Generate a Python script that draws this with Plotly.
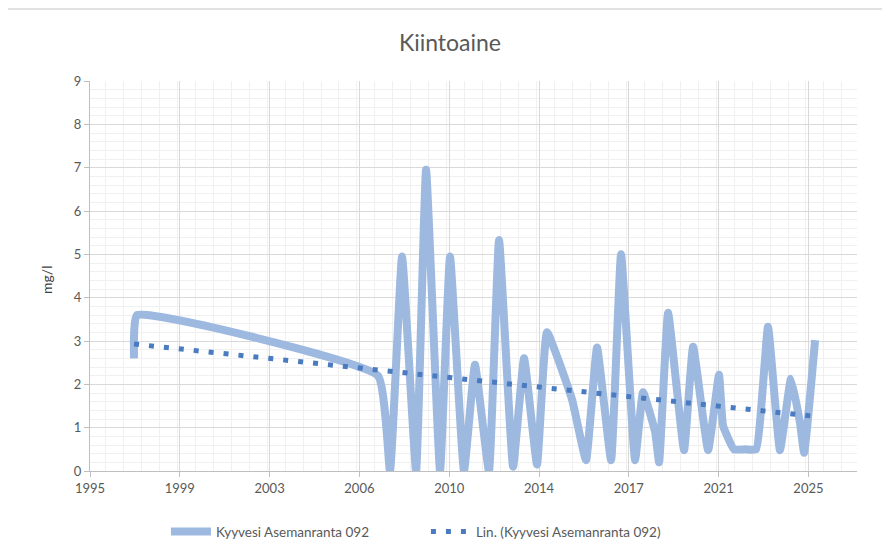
import plotly.graph_objects as go
import pandas as pd

# ---- data ----
title_text = "Kiintoaine"
y_title = "mg/l"
series_name = "Kyyvesi Asemanranta 092"
trend_name = "Lin. (Kyyvesi Asemanranta 092)"

sample_dates = [
    "1997-06-24", "1997-08-08", "2007-07-08", "2008-01-05", "2008-07-05",
    "2009-02-01", "2009-07-01", "2010-01-27", "2010-06-26", "2011-01-22",
    "2011-07-06", "2012-02-01", "2012-07-02", "2013-01-29", "2013-07-13",
    "2014-01-24", "2014-06-23", "2015-07-04", "2016-01-30", "2016-07-14",
    "2017-02-10", "2017-07-10", "2018-02-06", "2018-06-06", "2018-12-04",
    "2019-02-02", "2019-06-17", "2020-02-12", "2020-06-27", "2021-02-08",
    "2021-07-22", "2021-09-20", "2022-03-04", "2022-08-17", "2023-01-30",
    "2023-07-28", "2024-01-24", "2024-07-08", "2024-11-21", "2025-01-21",
    "2025-07-05",
]
sample_values = [
    2.6, 3.6, 2.2, 0.0, 4.95,
    0.0, 6.95, 0.0, 4.95, 0.0,
    2.45, 0.0, 5.33, 0.1, 2.6,
    0.15, 3.2, 1.65, 0.25, 2.85,
    0.25, 5.0, 0.25, 1.82, 0.9,
    0.2, 3.65, 0.48, 2.87, 0.48,
    2.22, 1.05, 0.5, 0.5, 0.5,
    3.33, 0.48, 2.13, 1.1, 0.42,
    3.02,
]

# linear trendline (Excel "Lin."), end values
trend_dates = ["1997-06-24", "2025-07-05"]
trend_values = [2.93, 1.26]

# ---- axis settings ----
axis_start = pd.Timestamp("1995-09-01")
major_days = 1350
axis_span_days = 11530
DAY_MS = 86400000

line_color = "#9DB9DF"
trend_color = "#4A7BC1"
text_color = "#595959"
font_family = "Lato, 'Open Sans', sans-serif"

fig = go.Figure()
fig.add_trace(go.Scatter(
    x=pd.to_datetime(sample_dates), y=sample_values, mode="lines", name=series_name,
    line=dict(color=line_color, width=8, shape="spline", smoothing=0.35),
))
fig.add_trace(go.Scatter(
    x=pd.to_datetime(trend_dates), y=trend_values, mode="lines", name=trend_name,
    line=dict(color=trend_color, width=5, dash="5px,10px"),
))

fig.update_layout(
    width=890, height=558,
    margin=dict(l=82, r=41, t=73, b=95),
    paper_bgcolor="white", plot_bgcolor="white",
    font=dict(family=font_family, color=text_color, size=13),
    title=dict(text=title_text, x=0.4966, xanchor="center", y=0.937, yanchor="middle",
               font=dict(size=23, color=text_color, family=font_family)),
    showlegend=True,
    legend=dict(orientation="h", x=0.099, xanchor="left", y=-0.156, yanchor="middle",
                font=dict(size=13.5, color=text_color), itemwidth=40, entrywidth=205,
                bgcolor="rgba(0,0,0,0)"),
    xaxis=dict(
        type="date",
        range=[axis_start, axis_start + pd.Timedelta(days=axis_span_days)],
        tickmode="linear", tick0=axis_start.strftime("%Y-%m-%d"),
        dtick=major_days * DAY_MS, tickformat="%Y",
        showgrid=True, gridcolor="#D9D9D9", gridwidth=1,
        minor=dict(dtick=major_days // 5 * DAY_MS, showgrid=True, gridcolor="#F0F0F0", gridwidth=1),
        showline=True, linecolor="#BFBFBF", linewidth=1,
        ticks="outside", ticklen=5, tickcolor="#BFBFBF",
        tickfont=dict(size=13, color=text_color),
        zeroline=False, fixedrange=True,
    ),
    yaxis=dict(
        range=[0, 9], tickmode="linear", tick0=0, dtick=1,
        showgrid=True, gridcolor="#D9D9D9", gridwidth=1,
        minor=dict(dtick=0.2, showgrid=True, gridcolor="#F0F0F0", gridwidth=1),
        showline=True, linecolor="#BFBFBF", linewidth=1,
        ticks="outside", ticklen=5, tickcolor="#BFBFBF",
        tickfont=dict(size=13, color=text_color),
        zeroline=False, fixedrange=True,
    ),
    annotations=[dict(
        text=y_title, xref="paper", yref="paper", x=-0.056, y=0.49,
        textangle=-90, showarrow=False, xanchor="center", yanchor="middle",
        font=dict(size=14, color="#404040", family=font_family),
    )],
    shapes=[
        dict(type="rect", xref="paper", yref="paper", x0=-0.108, y0=-0.3, x1=1.1, y1=1.1846,
             line=dict(color="#D9D9D9", width=1.5), layer="below"),
    ],
)

fig.write_html("out.html")
